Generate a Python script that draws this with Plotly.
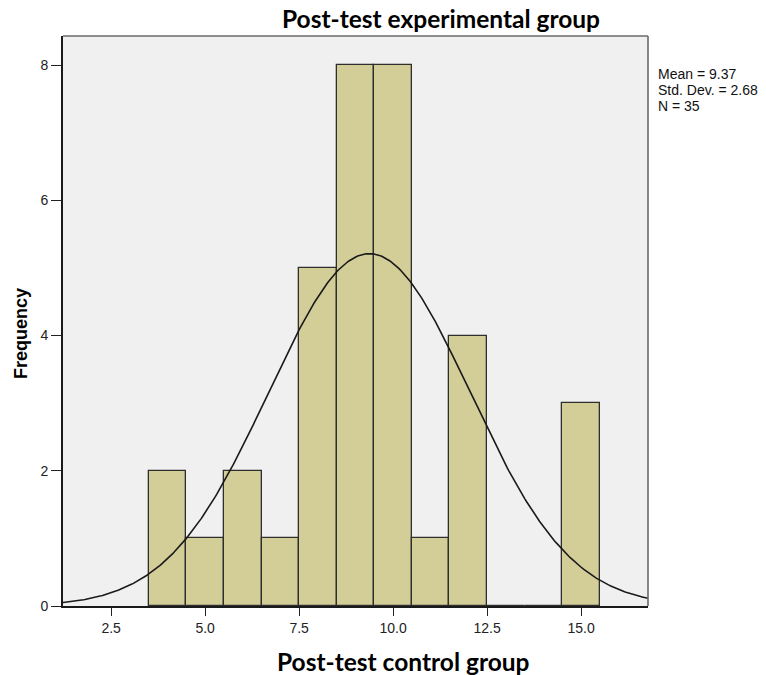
import numpy as np
import plotly.graph_objects as go

# Histogram data (bin centers and frequencies)
bin_centers = [4, 5, 6, 7, 8, 9, 10, 11, 12, 13, 14, 15]
frequencies = [2, 1, 2, 1, 5, 8, 8, 1, 4, 0, 0, 3]
mean_val = 9.37
std_val = 2.68
n_val = 35
x_ticks = [2.5, 5.0, 7.5, 10.0, 12.5, 15.0]
x_tick_labels = ["2.5", "5.0", "7.5", "10.0", "12.5", "15.0"]
y_ticks = [0, 2, 4, 6, 8]
stats_lines = [f"Mean = {mean_val:.2f}", f"Std. Dev. = {std_val:.2f}", f"N = {n_val}"]

x_range = [1.22, 16.78]
y_range = [0, 8.43]

W, H = 766, 675
ML, MR, MT, MB = 63, 118, 36, 69
PW, PH = W - ML - MR, H - MT - MB

def px_to_paper_x(px):
    return (px - ML) / PW

def px_to_paper_y(py):
    return (H - MB - py) / PH

# Fitted normal curve (SPSS style: N * binwidth * pdf)
xs = np.linspace(x_range[0], x_range[1], 400)
ys = n_val * 1.0 / (std_val * np.sqrt(2 * np.pi)) * np.exp(-0.5 * ((xs - mean_val) / std_val) ** 2)

fig = go.Figure()
fig.add_trace(go.Bar(
    x=bin_centers, y=frequencies, width=1.0,
    marker=dict(color="#d3ce97", line=dict(color="#2e2e2e", width=1.3)),
    hoverinfo="skip",
))
fig.add_trace(go.Scatter(
    x=xs, y=ys, mode="lines",
    line=dict(color="#1a1a1a", width=1.6),
    hoverinfo="skip",
))

fig.update_layout(
    width=W, height=H,
    margin=dict(l=ML, r=MR, t=MT, b=MB, autoexpand=False),
    paper_bgcolor="white", plot_bgcolor="#f0f0f0",
    showlegend=False, bargap=0,
    font=dict(family="Arial, Liberation Sans", size=14, color="#222"),
)
fig.update_xaxes(
    range=x_range, tickvals=x_ticks, ticktext=x_tick_labels,
    showgrid=False, zeroline=False, automargin=False,
    showline=True, linecolor="#1a1a1a", linewidth=1.6, mirror=False,
    ticks="outside", ticklen=8, tickwidth=1.3, tickcolor="#222",
    tickfont=dict(family="Arial, Liberation Sans", size=14, color="#222"),
)
fig.update_yaxes(
    range=y_range, tickvals=y_ticks,
    showgrid=False, zeroline=False, automargin=False,
    showline=True, linecolor="#1a1a1a", linewidth=1.6, mirror=False,
    ticks="outside", ticklen=10, tickwidth=1.3, tickcolor="#222",
    tickfont=dict(family="Arial, Liberation Sans", size=14, color="#222"),
)

# Top and right frame lines (greyer than the axes)
fig.add_shape(type="line", xref="paper", yref="paper", x0=0, x1=1, y0=1, y1=1,
              line=dict(color="#6a6a6a", width=1.6))
fig.add_shape(type="line", xref="paper", yref="paper", x0=1, x1=1, y0=0, y1=1,
              line=dict(color="#6a6a6a", width=1.6))

# Chart title
fig.add_annotation(
    x=px_to_paper_x(441), y=px_to_paper_y(19), xref="paper", yref="paper",
    xanchor="center", yanchor="middle", showarrow=False,
    text="<b>Post-test experimental group</b>",
    font=dict(family="Lato", size=24.5, color="black"),
)
# X axis title
fig.add_annotation(
    x=px_to_paper_x(403), y=px_to_paper_y(661), xref="paper", yref="paper",
    xanchor="center", yanchor="middle", showarrow=False,
    text="<b>Post-test control group</b>",
    font=dict(family="Lato", size=24.5, color="black"),
)
# Y axis title
fig.add_annotation(
    x=px_to_paper_x(21), y=px_to_paper_y(334), xref="paper", yref="paper",
    xanchor="center", yanchor="middle", showarrow=False, textangle=-90,
    text="<b>Frequency</b>",
    font=dict(family="Arial, Liberation Sans", size=18, color="black"),
)
# Stats box
for i, line in enumerate(stats_lines):
    fig.add_annotation(
        x=px_to_paper_x(656), y=px_to_paper_y(74 + 16 * i), xref="paper", yref="paper",
        xanchor="left", yanchor="middle", showarrow=False, align="left",
        text=line,
        font=dict(family="Arial, Liberation Sans", size=14, color="#111"),
    )

fig.write_html("out.html")
